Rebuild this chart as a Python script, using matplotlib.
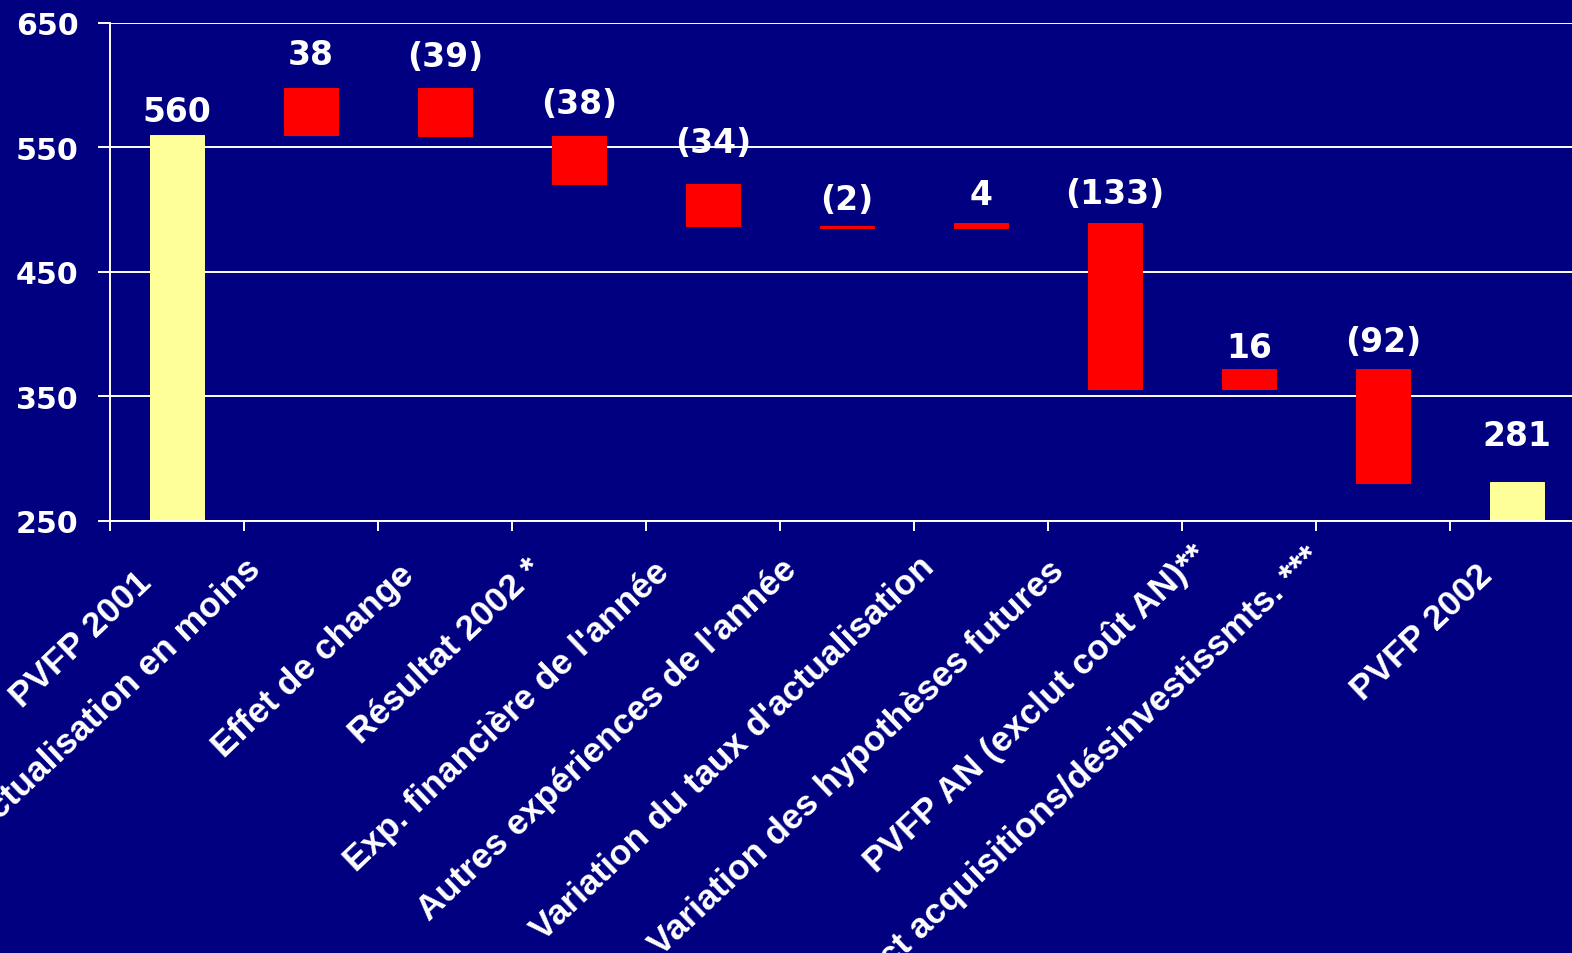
import numpy as np
import matplotlib
matplotlib.use("Agg")
import matplotlib.pyplot as plt
from matplotlib.transforms import ScaledTranslation, blended_transform_factory

# ── data ──────────────────────────────────────────────────
categories = [
    "PVFP 2001",
    "Désactualisation en moins",
    "Effet de change",
    "Résultat 2002 *",
    "Exp. financière de l'année",
    "Autres expériences de l'année",
    "Variation du taux d'actualisation",
    "Variation des hypothèses futures",
    "PVFP AN (exclut coût AN)**",
    "Impact acquisitions/désinvestissmts. ***",
    "PVFP 2002",
]
start_value = 560
changes = [38, -39, -38, -34, -2, 4, -133, 16, -92]
end_value = 281
value_labels = ["560", "38", "(39)", "(38)", "(34)", "(2)", "4",
                "(133)", "16", "(92)", "281"]
y_ticks = [250, 350, 450, 550, 650]

# ── styling (slide look) ──────────────────────────────────
NAVY = "#000080"
YELLOW = "#FFFF99"
RED = "#FF0000"
WHITE = "#FFFFFF"
DPI = 100
# rise of each value label baseline above its bar (pixels)
label_rise_px = [14, 24, 22, 23, 32, 17, 19, 20, 12, 18, 37]
# where each rotated category label ends, relative to the bar centre
# and the x axis (pixels)
cat_shift_px = [-31, -55, -36, -42, -49, -55, -52, -56, -47, -67, -30]
cat_drop_px = [56, 43, 49, 43, 46, 43, 41, 44, 29, 31, 49]

# ── waterfall geometry ────────────────────────────────────
levels = start_value + np.cumsum(changes)
prev = np.concatenate([[start_value], levels[:-1]])
chg_bottom = np.minimum(prev, levels)
chg_top = np.maximum(prev, levels)
chg_height = np.abs(changes)

n = len(categories)
x = np.arange(1, n + 1)

fig = plt.figure(figsize=(15.72, 9.54), dpi=DPI, facecolor=NAVY)
ax = fig.add_axes([110 / 1572, 432.3 / 954, 1474 / 1572, 497.7 / 954])
ax.set_facecolor(NAVY)

bar_w = 0.41
ax.bar([x[0], x[-1]], [start_value, end_value], width=bar_w,
       color=YELLOW, edgecolor=YELLOW, linewidth=0.7, zorder=2)
ax.bar(x[1:-1], chg_height, bottom=chg_bottom, width=bar_w,
       color=RED, edgecolor=RED, linewidth=0.7, zorder=2)

tops = np.concatenate([[start_value], chg_top, [end_value]])
for xi, top, txt, rise in zip(x, tops, value_labels, label_rise_px):
    ax.annotate(txt, xy=(xi, top), xytext=(0, rise * 72 / DPI),
                textcoords="offset points", ha="center", va="baseline",
                color=WHITE, fontsize=23.8, fontweight="bold",
                family="DejaVu Sans", annotation_clip=False)

ax.set_xlim(0.5, n + 0.5)
ax.set_ylim(y_ticks[0], y_ticks[-1])
ax.set_yticks(y_ticks)
ax.set_yticklabels([str(v) for v in y_ticks], fontsize=21.6,
                   fontweight="bold", family="DejaVu Sans", color=WHITE)
ax.tick_params(axis="y", length=8.6, width=1.4, color=WHITE, pad=14)

ax.set_xticks([])
ax.set_xticks(np.arange(0.5, n + 0.6, 1), minor=True)
ax.tick_params(axis="x", which="minor", direction="out", length=7.2,
               width=1.4, color=WHITE)

ax.yaxis.grid(True, color=WHITE, linewidth=1.4)
ax.set_axisbelow(True)
for side in ["top", "right"]:
    ax.spines[side].set_visible(False)
for side in ["left", "bottom"]:
    ax.spines[side].set_color(WHITE)
    ax.spines[side].set_linewidth(1.4)

# rotated category labels, ending a bit left of each bar
base = blended_transform_factory(ax.transData, ax.transAxes)
for xi, cat, dx, dy in zip(x, categories, cat_shift_px, cat_drop_px):
    tr = base + ScaledTranslation(dx / DPI, -dy / DPI, fig.dpi_scale_trans)
    ax.text(xi, 0, cat, transform=tr, rotation=43.5, rotation_mode="anchor",
            ha="right", va="center", color=WHITE, fontsize=25.5,
            fontweight="bold", family="Liberation Sans", clip_on=False)

fig.savefig("out.png", dpi=DPI, facecolor=NAVY)
